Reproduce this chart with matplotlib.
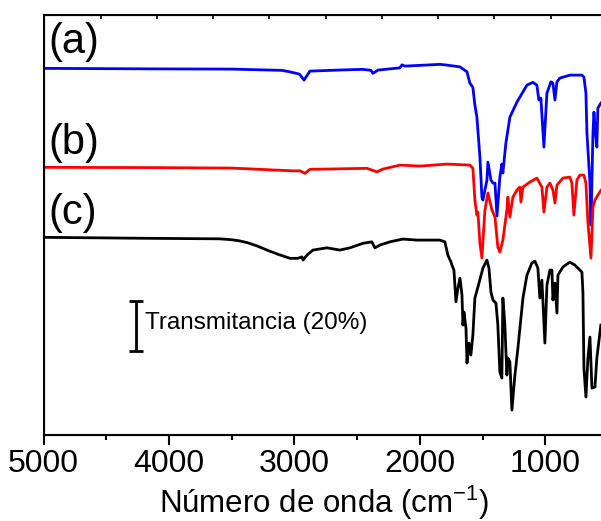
import numpy as np
import matplotlib
matplotlib.use("Agg")
import matplotlib.pyplot as plt

plt.rcParams['font.family'] = ['Liberation Sans', 'DejaVu Sans']
plt.rcParams['mathtext.fontset'] = 'custom'
plt.rcParams['mathtext.rm'] = 'Liberation Sans'

# espectro (a) - azul
wn_a = [5000, 4151, 3500, 3100, 3036, 2960, 2924, 2877, 2600, 2454, 2390, 2375, 2335,
        2160, 2143, 2120, 1841, 1785, 1681, 1625, 1602, 1578, 1562, 1546, 1522,
        1506, 1498, 1466, 1458, 1434, 1418, 1402, 1386, 1363, 1347, 1339, 1315,
        1283, 1227, 1147, 1100, 1068, 1052, 1036, 1012, 988, 956, 940, 924, 908,
        885, 805, 709, 693, 677, 669, 645, 637, 621, 613, 605, 590, 582, 558]
t_a = [146.8, 146.6, 146.5, 146.0, 145.4, 144.5, 142.1, 145.7, 146.2, 146.4, 146.0, 144.8, 146.1,
       147.0, 148.2, 147.7, 148.4, 148.1, 147.4, 145.4, 140.9, 139.2, 132.1, 127.3, 111.3,
       95.3, 94.1, 102.1, 109.3, 102.1, 100.9, 100.9, 87.7, 103.3, 108.5, 104.9, 116.9,
       127.3, 133.3, 140.1, 141.2, 140.1, 134.1, 134.9, 115.3, 136.9, 141.4, 140.9, 134.1, 141.4,
       142.9, 144.1, 144.1, 143.3, 136.9, 120.9, 100.9, 84.1, 120.9, 129.3, 123.3, 115.3, 130.9, 132.9]

# espectro (b) - rojo
wn_b = [5000, 4151, 3500, 3012, 2956, 2916, 2877, 2422, 2343, 2295, 2159, 2000,
        1785, 1602, 1578, 1562, 1546, 1538, 1522, 1506, 1482, 1458, 1426, 1402,
        1379, 1363, 1339, 1307, 1299, 1283, 1259, 1227, 1203, 1195, 1179, 1124,
        1068, 1028, 1012, 988, 964, 940, 924, 908, 861, 805, 789, 773, 749, 725,
        693, 677, 661, 637, 621, 605, 582, 558]
t_b = [107.2, 107.1, 106.9, 105.8, 105.8, 104.8, 106.4, 106.8, 105.4, 106.5, 108.1, 107.7,
       108.5, 108.1, 106.8, 94.1, 88.1, 89.3, 76.9, 70.9, 90.1, 96.9, 90.1, 87.3,
       75.3, 73.3, 78.1, 90.1, 95.3, 87.3, 95.3, 98.1, 99.3, 93.3, 99.3, 101.3,
       102.9, 99.3, 89.3, 99.3, 100.9, 98.1, 92.9, 100.1, 102.9, 103.3, 100.9, 88.1, 102.1, 104.1,
       104.1, 100.9, 84.9, 70.9, 91.3, 94.1, 96.1, 98.0]

# espectro (c) - negro
wn_c = [5000, 4151, 3600, 3514, 3450, 3378, 3300, 3219, 3130, 3036, 2972, 2940, 2932, 2900, 2853, 2741,
        2638, 2558, 2454, 2383, 2359, 2319, 2239, 2136, 2024, 1841, 1801, 1777,
        1753, 1745, 1729, 1713, 1697, 1681, 1665, 1657, 1649, 1633, 1625, 1609,
        1594, 1578, 1562, 1538, 1498, 1466, 1450, 1434, 1418, 1394, 1379, 1363,
        1347, 1339, 1323, 1307, 1299, 1283, 1267, 1243, 1219, 1179, 1147, 1108,
        1084, 1060, 1044, 1028, 1004, 988, 964, 948, 940, 924, 908, 900, 861,
        805, 765, 709, 701, 693, 677, 661, 645, 629, 605, 590, 558]
t_c = [79.2, 78.8, 78.6, 78.3, 77.9, 77.1, 75.8, 74.1, 72.4, 70.8, 70.8, 71.4, 70.1, 72.1, 74.1, 75.0,
       74.1, 75.0, 76.8, 77.4, 75.0, 76.1, 77.4, 78.5, 78.1, 78.1, 77.4, 72.0,
       69.4, 68.1, 66.1, 53.4, 58.9, 62.9, 56.1, 44.1, 49.3, 42.9, 28.9, 36.9,
       32.1, 40.1, 54.9, 59.3, 66.9, 70.1, 66.9, 57.3, 54.1, 52.9, 44.1, 25.3,
       22.9, 54.9, 44.1, 24.1, 30.9, 29.3, 10.1, 24.1, 34.9, 54.9, 64.1, 68.9,
       69.7, 66.9, 54.9, 62.1, 36.9, 60.1, 66.1, 66.1, 54.1, 60.9, 48.9, 64.1, 67.3,
       69.3, 68.1, 65.3, 57.3, 26.9, 15.3, 30.9, 39.3, 18.9, 19.3, 30.9, 44.1]

etiquetas = ['(a)', '(b)', '(c)']
y_etiquetas = [157.3, 116.9, 88.9]

fig = plt.figure(figsize=(6.01, 5.21), dpi=100)
ax = fig.add_axes([0.0724, 0.1645, 1.009, 0.806])

ax.plot(wn_a, t_a, color='#0000ff', lw=2.0)
ax.plot(wn_b, t_b, color='#ff0000', lw=2.0)
ax.plot(wn_c, t_c, color='black', lw=2.0)

for lab, yl in zip(etiquetas, y_etiquetas):
    ax.text(4964, yl, lab, fontsize=30, ha='left', va='center')

# barra de escala 20%
ax.errorbar([4265], [43.7], yerr=[10], color='black', lw=2, capsize=5, capthick=2)
ax.text(4190, 44.9, 'Transmitancia (20%)', fontsize=17.5, ha='left', va='center')

ax.set_xlim(5000, 167)
ax.set_ylim(0, 168)
ax.set_xticks([5000, 4000, 3000, 2000, 1000])
ax.set_xticks(np.arange(4500, 500, -1000), minor=True)
ax.set_yticks([])
ax.tick_params(axis='x', which='major', direction='out', length=7, width=1.5,
               labelsize=23, pad=3, top=False)
ax.tick_params(axis='x', which='minor', direction='out', length=3.5, width=1.5, top=False)
for s in ax.spines.values():
    s.set_linewidth(1.5)
ax.set_xlabel(r'Número de onda (cm$^{\mathregular{-1}}$)', fontsize=22.5, labelpad=2)
ax.xaxis.set_label_coords(0.463, -0.115)

ax2 = ax.twiny()
ax2.set_xlim(ax.get_xlim())
ax2.set_xticks(np.arange(4543, 500, -448))
ax2.tick_params(axis='x', direction='in', length=3, width=1.2, labeltop=False)

fig.savefig('out.png', dpi=100)
